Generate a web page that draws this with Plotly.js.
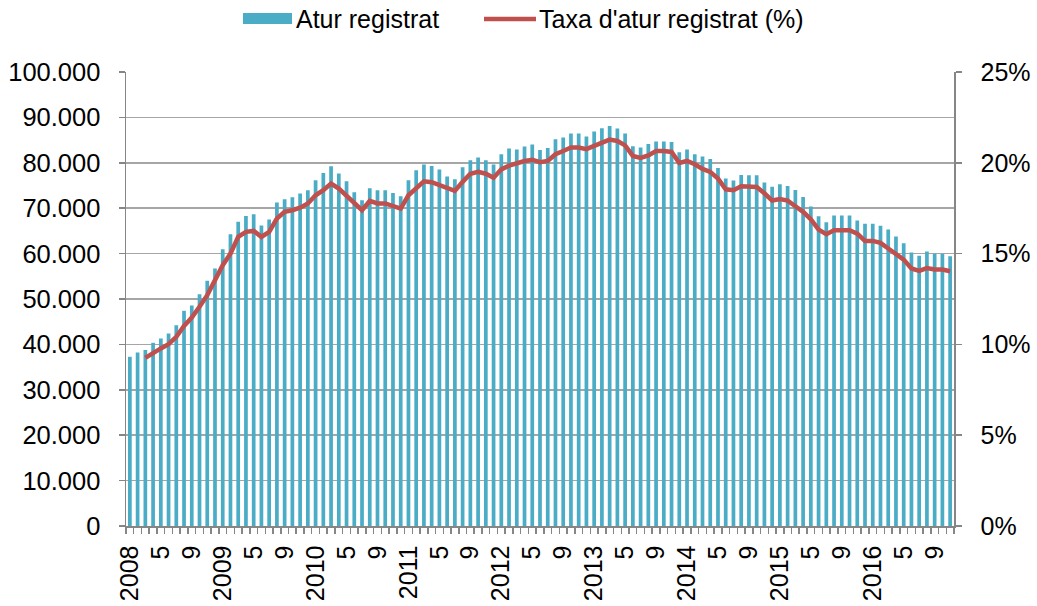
<!DOCTYPE html>
<html>
<head>
<meta charset="utf-8">
<script src="https://cdn.plot.ly/plotly-3.0.1.min.js"></script>
<style>
  html, body { margin: 0; padding: 0; background: #ffffff; }
  #chart { width: 1037px; height: 606px; }
</style>
</head>
<body>
<div id="chart"></div>
<script>
// ---------- DATA ----------
const years = [2008, 2009, 2010, 2011, 2012, 2013, 2014, 2015, 2016];
const monthCount = 107; // Jan 2008 .. Nov 2016

const tickLabels = ['2008','5','9','2009','5','9','2010','5','9','2011','5','9',
                    '2012','5','9','2013','5','9','2014','5','9','2015','5','9',
                    '2016','5','9'];

// Atur registrat (persones)
const aturRegistrat = [
  37270, 38230, 38740, 40350, 41300, 42400, 44240, 47400, 48570, 51070, 54000, 56700,
  60970, 64270, 66990, 68300, 68670, 66180, 67500, 71240, 71980, 72420, 73220, 73950,
  76160, 77770, 79240, 77630, 75940, 73520, 71760, 74400, 73950, 73950, 73370, 72640,
  76160, 78360, 79600, 79310, 78500, 76960, 76380, 79020, 80560, 81150, 80560, 79600,
  81880, 83130, 82910, 83570, 84010, 82830, 83270, 85180, 85600, 86430, 86430, 85770,
  86870, 87600, 88120, 87530, 86430, 83640, 83350, 84150, 84670, 84670, 84600, 82320,
  82910, 81880, 81370, 80850, 78870, 76520, 76090, 77330, 77260, 77260, 75640, 74720,
  75300, 74910, 74030, 72490, 70360, 68230, 66910, 68380, 68380, 68380, 67280, 66550,
  66550, 66110, 65300, 63760, 62290, 60240, 59500, 60460, 59940, 59940, 59430
];

// Taxa d'atur registrat (%)
const taxaAtur = [
  null, null, 9.26, 9.54, 9.78, 10.01, 10.42, 11.02, 11.48, 12.07, 12.71, 13.54,
  14.36, 15.00, 15.92, 16.20, 16.25, 15.92, 16.20, 16.93, 17.30, 17.39, 17.53, 17.76,
  18.21, 18.49, 18.86, 18.58, 18.18, 17.79, 17.39, 17.90, 17.76, 17.76, 17.63, 17.48,
  18.21, 18.62, 18.98, 18.93, 18.76, 18.58, 18.45, 18.95, 19.40, 19.51, 19.40, 19.18,
  19.64, 19.84, 19.99, 20.10, 20.17, 20.03, 20.10, 20.47, 20.65, 20.84, 20.84, 20.75,
  20.93, 21.09, 21.28, 21.20, 20.96, 20.38, 20.27, 20.41, 20.65, 20.65, 20.60, 19.99,
  20.10, 19.92, 19.66, 19.50, 19.13, 18.54, 18.49, 18.71, 18.71, 18.67, 18.32, 17.92,
  18.00, 17.92, 17.61, 17.30, 16.89, 16.32, 16.07, 16.29, 16.29, 16.29, 16.10, 15.70,
  15.70, 15.59, 15.28, 14.97, 14.67, 14.18, 14.05, 14.20, 14.12, 14.12, 14.03
];

const seriesNames = ['Atur registrat', "Taxa d'atur registrat (%)"];

// ---------- BUILD ----------
const months = [];
years.forEach(y => { for (let m = 1; m <= 12; m++) months.push(y + '-' + (m < 10 ? '0' + m : m)); });
const categories = months.slice(0, monthCount);
const tickText = categories.map((c, i) => (i % 4 === 0 ? tickLabels[i / 4] : ''));

const BAR_COLOR = '#4BACC6';
const LINE_COLOR = '#C0504D';
const AXIS_COLOR = '#868686';
const GRID_COLOR = '#A6A6A6';
const FONT = 'Liberation Sans, Arial, sans-serif';

const W = 1037, H = 606;
const M = { l: 126, r: 83, t: 72, b: 80 };
const plotW = W - M.l - M.r, plotH = H - M.t - M.b;
const px = x => (x - M.l) / plotW;
const py = y => (H - M.b - y) / plotH;

const traces = [
  {
    type: 'bar', name: seriesNames[0], x: categories, y: aturRegistrat,
    marker: { color: BAR_COLOR }, yaxis: 'y', showlegend: false, hoverinfo: 'x+y'
  },
  {
    type: 'scatter', mode: 'lines', name: seriesNames[1], x: categories, y: taxaAtur,
    line: { color: LINE_COLOR, width: 4.5 }, yaxis: 'y2', showlegend: false,
    connectgaps: false
  }
];

const layout = {
  width: W, height: H,
  margin: M,
  paper_bgcolor: '#ffffff', plot_bgcolor: '#ffffff',
  font: { family: FONT, size: 25, color: '#000000' },
  separators: ',.',
  bargap: 0.52,
  showlegend: false,
  xaxis: {
    type: 'category',
    range: [-0.5, monthCount - 0.5],
    tickmode: 'array', tickvals: categories, ticktext: tickText,
    tickson: 'boundaries',
    ticks: 'outside', ticklen: 6, tickwidth: 1.5, tickcolor: AXIS_COLOR,
    tickangle: -90,
    tickfont: { family: FONT, size: 25, color: '#000000' },
    ticklabelstandoff: 8,
    showline: true, linecolor: AXIS_COLOR, linewidth: 1.5,
    showgrid: false, zeroline: false, fixedrange: true
  },
  yaxis: {
    range: [0, 100000], dtick: 10000, tick0: 0, tickformat: ',d',
    ticks: 'outside', ticklen: 6, tickwidth: 1.5, tickcolor: AXIS_COLOR,
    tickfont: { family: FONT, size: 25.5, color: '#000000' },
    ticklabelstandoff: 13,
    showline: true, linecolor: AXIS_COLOR, linewidth: 1.5,
    showgrid: true, gridcolor: GRID_COLOR, gridwidth: 1.5,
    zeroline: false, fixedrange: true
  },
  yaxis2: {
    overlaying: 'y', side: 'right',
    range: [0, 25], dtick: 5, tick0: 0, ticksuffix: '%',
    ticks: 'outside', ticklen: 6, tickwidth: 1.5, tickcolor: AXIS_COLOR,
    tickfont: { family: FONT, size: 25, color: '#000000' },
    ticklabelstandoff: 14,
    showline: true, linecolor: AXIS_COLOR, linewidth: 1.5,
    showgrid: false, zeroline: false, fixedrange: true
  },
  shapes: [
    { type: 'rect', xref: 'paper', yref: 'paper',
      x0: px(243), x1: px(292), y0: py(24), y1: py(13),
      fillcolor: BAR_COLOR, line: { width: 0 } },
    { type: 'line', xref: 'paper', yref: 'paper',
      x0: px(484), x1: px(536), y0: py(19), y1: py(19),
      line: { color: LINE_COLOR, width: 4.5 } }
  ],
  annotations: [
    { xref: 'paper', yref: 'paper', x: px(294), y: py(19), xanchor: 'left', yanchor: 'middle',
      text: seriesNames[0], showarrow: false, font: { family: FONT, size: 25, color: '#000000' } },
    { xref: 'paper', yref: 'paper', x: px(537), y: py(19), xanchor: 'left', yanchor: 'middle',
      text: seriesNames[1], showarrow: false, font: { family: FONT, size: 25, color: '#000000' } }
  ]
};

Plotly.newPlot('chart', traces, layout, { displayModeBar: false, staticPlot: true });
</script>
</body>
</html>
